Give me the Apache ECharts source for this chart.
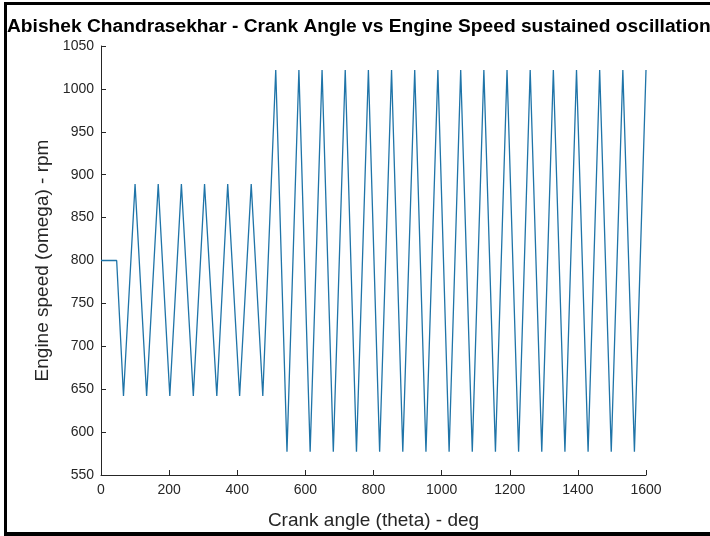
<!DOCTYPE html>
<html>
<head>
<meta charset="utf-8">
<script src="https://cdn.jsdelivr.net/npm/echarts@6/dist/echarts.min.js"></script>
<style>
html,body{margin:0;padding:0;background:#fff;}
#chart{width:710px;height:536px;}
</style>
</head>
<body>
<div id="chart"></div>
<script>
// Crank angle (deg) at each turning point of the trace
var crankAngles = [0, 46, 66, 100, 134, 168, 202, 236, 271, 304, 340, 372, 407, 441, 475,
  513, 546, 581, 614, 649, 682, 717, 750, 785, 818, 853, 886, 921, 954, 989, 1022,
  1056, 1090, 1124, 1158, 1192, 1226, 1260, 1294, 1328, 1362, 1396, 1430, 1464, 1498, 1532, 1566, 1600];
// Engine speed (rpm) at those crank angles
var engineSpeeds = [800, 800, 642, 889, 642, 889, 642, 889, 642, 889, 642, 889, 642, 889, 642,
  1022, 577, 1022, 577, 1022, 577, 1022, 577, 1022, 577, 1022, 577, 1022, 577, 1022, 577,
  1022, 577, 1022, 577, 1022, 577, 1022, 577, 1022, 577, 1022, 577, 1022, 577, 1022, 577, 1022];
var xTicks = [0, 200, 400, 600, 800, 1000, 1200, 1400, 1600];
var yTicks = [550, 600, 650, 700, 750, 800, 850, 900, 950, 1000, 1050];
var titleText = 'Abishek Chandrasekhar - Crank Angle vs Engine Speed sustained oscillations';
var xName = 'Crank angle (theta) - deg';
var yName = 'Engine speed (omega) - rpm';

var seriesData = crankAngles.map(function (a, i) { return [a, engineSpeeds[i]]; });
var chart = echarts.init(document.getElementById('chart'), null, {renderer: 'canvas'});
var axisColor = '#262626';
var font = 'Liberation Sans, Arial, sans-serif';
chart.setOption({
  animation: false,
  backgroundColor: '#ffffff',
  title: {
    text: titleText,
    left: 7, top: 17, padding: 0,
    textStyle: {fontFamily: font, fontWeight: 'bold', fontSize: 19.2, color: '#000'}
  },
  grid: {left: 101, right: 64, top: 46, bottom: 61, containLabel: false},
  xAxis: {
    type: 'value',
    min: xTicks[0], max: xTicks[xTicks.length - 1], interval: 200,
    name: xName, nameLocation: 'middle', nameGap: 36,
    nameTextStyle: {fontFamily: font, fontSize: 19, color: axisColor},
    axisLine: {show: true, lineStyle: {color: axisColor, width: 1}},
    axisTick: {show: true, inside: true, length: 5, lineStyle: {color: axisColor}},
    axisLabel: {fontFamily: font, fontSize: 14, color: axisColor, margin: 8,
      formatter: function (v) { return String(v); }},
    splitLine: {show: false}
  },
  yAxis: {
    type: 'value',
    min: yTicks[0], max: yTicks[yTicks.length - 1], interval: 50,
    name: yName, nameLocation: 'middle', nameGap: 37,
    nameTextStyle: {fontFamily: font, fontSize: 19, color: axisColor},
    axisLine: {show: true, lineStyle: {color: axisColor, width: 1}},
    axisTick: {show: true, inside: true, length: 5, lineStyle: {color: axisColor}},
    axisLabel: {fontFamily: font, fontSize: 14, color: axisColor, margin: 7,
      formatter: function (v) { return String(v); }},
    splitLine: {show: false}
  },
  series: [{
    type: 'line',
    data: seriesData,
    showSymbol: false,
    lineStyle: {color: '#1f74a8', width: 1.3},
    clip: false
  }],
  graphic: [
    {type: 'rect', shape: {x: 4, y: 2, width: 3, height: 534}, style: {fill: '#000'}},
    {type: 'rect', shape: {x: 4, y: 2, width: 706, height: 3}, style: {fill: '#000'}},
    {type: 'rect', shape: {x: 4, y: 532, width: 706, height: 4}, style: {fill: '#000'}}
  ]
});
</script>
</body>
</html>
